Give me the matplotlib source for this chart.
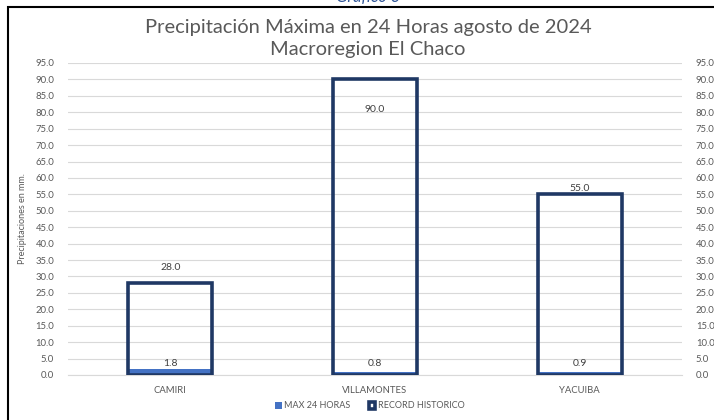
import matplotlib
matplotlib.use('Agg')
import matplotlib.pyplot as plt
from matplotlib.patches import Rectangle
import numpy as np

## Data
estaciones = ['CAMIRI', 'VILLAMONTES', 'YACUIBA']
max_24h = [1.8, 0.8, 0.9]
record = [28.0, 90.0, 55.0]
yticks = np.arange(0, 95.1, 5)

plt.rcParams['font.family'] = ['Lato', 'DejaVu Sans']
gris = '#595959'
azul = '#4472C4'
navy = '#1F3864'

fig = plt.figure(figsize=(7.14, 4.2), dpi=100)
W, H = 714., 420.
ax = fig.add_axes([68/W, 1-375/H, (682-68)/W, (375-63)/H])

x = np.arange(len(estaciones))
w = 0.41
ax.bar(x, max_24h, w, color=azul, zorder=2, label='MAX 24 HORAS')
ax.bar(x, record, w, facecolor='none', edgecolor=navy, linewidth=2.6, zorder=3,
       label='RECORD HISTORICO')

ax.set_xlim(-0.5, 2.5)
ax.set_ylim(0, 95)
ax.set_yticks(yticks)
ax.set_yticklabels(['%.1f' % v for v in yticks])
ax.yaxis.grid(True, color='#d9d9d9', linewidth=0.8, zorder=0)
ax.set_axisbelow(True)
ax.set_xticks(x)
ax.set_xticklabels(estaciones)
ax.tick_params(axis='both', length=0, labelsize=6.8, colors=gris)
ax.tick_params(axis='x', pad=8)
ax.tick_params(axis='y', pad=10)
for s in ax.spines.values():
    s.set_visible(False)
ax.spines['bottom'].set_visible(True)
ax.spines['bottom'].set_color('#d9d9d9')

# right axis copy
ax2 = ax.twinx()
ax2.set_ylim(0, 95)
ax2.set_yticks(yticks)
ax2.set_yticklabels(['%.1f' % v for v in yticks])
ax2.tick_params(axis='y', length=0, labelsize=6.8, colors=gris, pad=10)
for s in ax2.spines.values():
    s.set_visible(False)

# data labels
rec_off = [3.5, -10.5, 0.3]
for i, v in enumerate(record):
    ax.text(x[i], v + rec_off[i], '%.1f' % v, ha='center', va='bottom',
            fontsize=7.5, color='#404040', zorder=5)
for i, v in enumerate(max_24h):
    ax.text(x[i], 2.2, '%.1f' % v, ha='center', va='bottom',
            fontsize=7.5, color='#404040', zorder=5)

ax.set_ylabel('Precipitaciones en mm.', fontsize=6.5, color=gris, labelpad=6)

fig.text(368/W, 1-28/H, 'Precipitación Máxima en 24 Horas agosto de 2024',
         ha='center', va='center', fontsize=14.5, color=gris)
fig.text(368/W, 1-49/H, 'Macroregion El Chaco', ha='center', va='center',
         fontsize=14.5, color=gris)
fig.text(368/W, 1+3/H, 'Gráfico 3', ha='center', va='center', fontsize=12,
         color='#2F5597', style='italic')

leg = fig.legend(loc='center', bbox_to_anchor=(370/W, 1-406/H), ncol=2,
                 frameon=False, fontsize=6.5, handlelength=0.7, handleheight=0.7,
                 columnspacing=2.0, handletextpad=0.3)
for t in leg.get_texts():
    t.set_color(gris)

# outer frame
fig.patches.append(Rectangle((8/W, -0.1), 1.2, 1-7/H + 0.1, transform=fig.transFigure,
                             fill=False, edgecolor='black', linewidth=1.5))

plt.savefig('out.png', dpi=100)
